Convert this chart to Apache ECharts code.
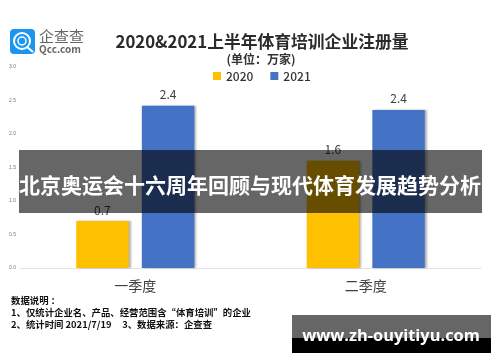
<!DOCTYPE html>
<html><head><meta charset="utf-8">
<style>html,body{margin:0;padding:0;background:#fff}#c{width:500px;height:362px}</style>
<script src="https://cdn.jsdelivr.net/npm/echarts@6/dist/echarts.min.js"></script>
</head><body><div id="c"></div>
<script>
const categories = ['一季度','二季度'];
const values2020 = [0.7,1.6];
const values2021 = [2.42,2.36];
const seriesNames = ['2020','2021'];
const CJK = '"Noto Sans CJK SC",sans-serif';
const chart = echarts.init(document.getElementById('c'),null,{renderer:'canvas'});
const barLabel = {show:true,position:'top',distance:5,fontFamily:CJK,fontSize:12,color:'#404040',formatter:p=>p.value.toFixed(1)};
const shadow = {shadowColor:'rgba(0,0,0,0.3)',shadowBlur:2,shadowOffsetX:2,shadowOffsetY:0};
function txt(x,y,text,fontSize,fill,fontWeight,align){
  return {type:'text',x,y,z:20,silent:true,style:{text,fontSize,fill,fontWeight:fontWeight||'normal',fontFamily:CJK,align:align||'left',verticalAlign:'middle'}};
}
chart.setOption({
  animation:false,
  grid:{left:20,right:19,top:67,bottom:94},
  legend:{show:true,top:65,left:208,icon:'rect',itemWidth:8,itemHeight:8,itemGap:17,
    data:seriesNames,textStyle:{fontFamily:CJK,fontSize:12,fontWeight:500,color:'#333',padding:[0,0,0,0]}},
  xAxis:{type:'category',data:categories,axisTick:{show:false},
    axisLine:{lineStyle:{color:'#e4e4e4',width:1}},
    axisLabel:{fontFamily:CJK,fontSize:14,color:'#404040',margin:11}},
  yAxis:{type:'value',min:0,max:3,interval:0.5,splitLine:{show:false},axisLine:{show:false},axisTick:{show:false},
    axisLabel:{fontFamily:'"Liberation Sans",sans-serif',fontSize:5,color:'#777',margin:4,formatter:v=>v.toFixed(1),align:'right'}},
  series:[
    {name:seriesNames[0],type:'bar',data:values2020,barWidth:52.5,barGap:'25%',itemStyle:{color:'#FFC000',...shadow},label:barLabel},
    {name:seriesNames[1],type:'bar',data:values2021,barWidth:52.5,itemStyle:{color:'#4472C4',...shadow},label:barLabel}
  ],
  graphic:{elements:[
    txt(262,42,'2020&2021上半年体育培训企业注册量',16.8,'#2b2b2b','bold','center'),
    txt(261,59,'(单位：万家)',12,'#333','bold','center'),
    {type:'rect',shape:{x:10,y:29,width:25,height:25,r:4},z:20,silent:true,style:{fill:'#1a96f0'}},
    {type:'circle',shape:{cx:22,cy:41,r:8},z:21,silent:true,style:{fill:'none',stroke:'#fff',lineWidth:2}},
    {type:'circle',shape:{cx:22,cy:41,r:4},z:21,silent:true,style:{fill:'none',stroke:'#fff',lineWidth:1.5}},
    {type:'line',shape:{x1:27,y1:47,x2:33,y2:52},z:21,silent:true,style:{stroke:'#fff',lineWidth:2}},
    txt(39,36,'企查查',15,'#666'),
    txt(39,49.5,'Qcc.com',10,'#666','bold'),
    txt(11,300,'数据说明 ：',9.4,'#111','bold'),
    txt(11,312,'1、仅统计企业名、产品、经营范围含“体育培训”的企业',9.4,'#111','bold'),
    txt(11,324,'2、统计时间 2021/7/19     3、数据来源：企查查',9.4,'#111','bold'),
    {type:'rect',shape:{x:19,y:150,width:463,height:63},z:30,silent:true,style:{fill:'rgba(0,0,0,0.6)'}},
    {type:'text',x:250,y:185,z:31,silent:true,style:{text:'北京奥运会十六周年回顾与现代体育发展趋势分析',fontSize:21,fontWeight:'bold',fontFamily:CJK,fill:'#fff',align:'center',verticalAlign:'middle'}},
    {type:'rect',shape:{x:292,y:315,width:199,height:23},z:30,silent:true,style:{fill:'#666'}},
    {type:'rect',shape:{x:292,y:338,width:199,height:15},z:30,silent:true,style:{fill:'#000'}},
    {type:'text',x:391,y:336,z:31,silent:true,style:{text:'www.zh-ouyitiyu.com',fontSize:16.4,fontWeight:'bold',fontFamily:'"Open Sans",sans-serif',fill:'#fff',align:'center',verticalAlign:'middle'}}
  ]}
});
</script></body></html>
